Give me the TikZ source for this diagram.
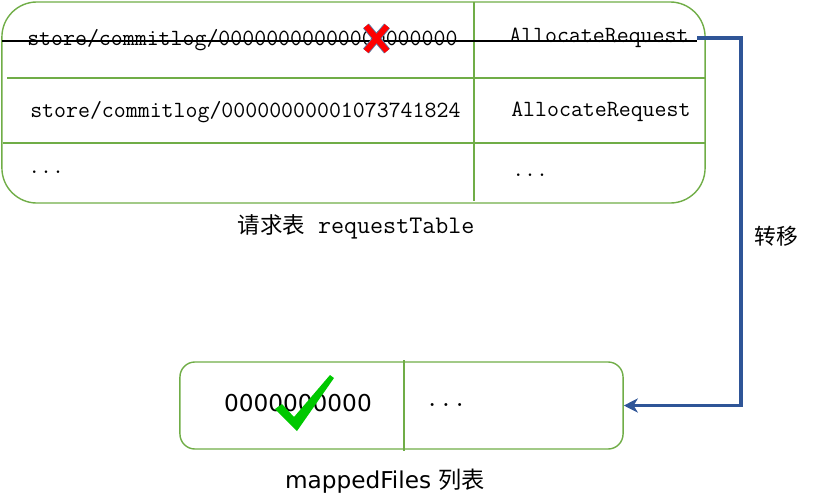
\documentclass[tikz,border=0pt]{standalone}
\usepackage{fontspec}
\setsansfont{DejaVu Sans}
\newfontfamily\cjk{Noto Sans CJK SC}
\usetikzlibrary{arrows.meta,positioning}
\definecolor{tgreen}{HTML}{70AD47}
\definecolor{tblue}{HTML}{2F5597}
\definecolor{xred}{HTML}{FF0000}
\definecolor{xedge}{HTML}{5B7FA8}
\definecolor{okgreen}{HTML}{00C800}
\tikzset{
  cell/.style={font=\ttfamily\fontsize{16.5}{18}\selectfont, inner sep=0pt},
  caption/.style={inner sep=0pt},
  grid/.style={tgreen, line width=1.6pt},
}
\begin{document}
\begin{tikzpicture}[x=0.025cm,y=-0.025cm]
		\useasboundingbox (0,0) rectangle (814,501);
		% request table
		\node[draw=tgreen, line width=1pt, rounded corners=0.875cm, minimum width=17.575cm, minimum height=5.025cm] (reqtable) at (353.5,102.5) {};
		\draw[grid] (7,78)--(705,78);
		\draw[grid] (3,143)--(705,143);
		\draw[grid] (474,2)--(474,201);
		\node[cell, anchor=west] (r1a) at (27,40) {store/commitlog/00000000000000000000};
		\node[cell, anchor=west] (r1b) at (509,38) {AllocateRequest};
		\node[cell, anchor=west] (r2a) at (30,112) {store/commitlog/00000000001073741824};
		\node[cell, anchor=west] (r2b) at (511,112) {AllocateRequest};
		\node[cell, anchor=west] (r3a) at (28,172) {...};
		\node[cell, anchor=west] (r3b) at (512,175) {...};
		% strike out and cross
		\draw[line width=1.3pt] (2,41)--(697,41) coordinate (strikeend);
		\draw[xedge, line width=5.4pt] (366,26)--(387,51) (387,26)--(366,51);
		\draw[xred, line width=4.2pt] (366,26)--(387,51) (387,26)--(366,51);
		\node[caption, font=\ttfamily\fontsize{18}{20}\selectfont] (reqlabel) at (356,227) {{\cjk\fontsize{16}{18}\selectfont 请求表} requestTable};
		% mapped files
		\node[draw=tgreen, line width=1pt, rounded corners=0.375cm, minimum width=11.075cm, minimum height=2.175cm] (mapped) at (401.5,405.5) {};
		\draw[grid] (404,360)--(404,451);
		\node[caption, font=\sffamily\fontsize{16.5}{18}\selectfont] (m1) at (298,403) {0000000000};
		\node[cell, font=\ttfamily\fontsize{19}{20}\selectfont] (m2) at (446,405) {...};
		\fill[okgreen] (275,409)--(282,404)--(294,417)--(330,375)--(334,378)--(297,431)--cycle;
		\node[caption, font=\sffamily\fontsize{16.5}{18}\selectfont] (maplabel) at (385,481) {mappedFiles {\cjk 列表}};
		% transfer arrow
		\draw[tblue, line width=2.4pt, -{Stealth[length=10pt,width=10pt,inset=3pt]}] (strikeend) ++(0,-3) -- (741,38) |- (mapped.east);
		\node[caption, font=\cjk\fontsize{15.5}{18}\selectfont] (move) at (776,236) {转移};
		\end{tikzpicture}
\end{document}
